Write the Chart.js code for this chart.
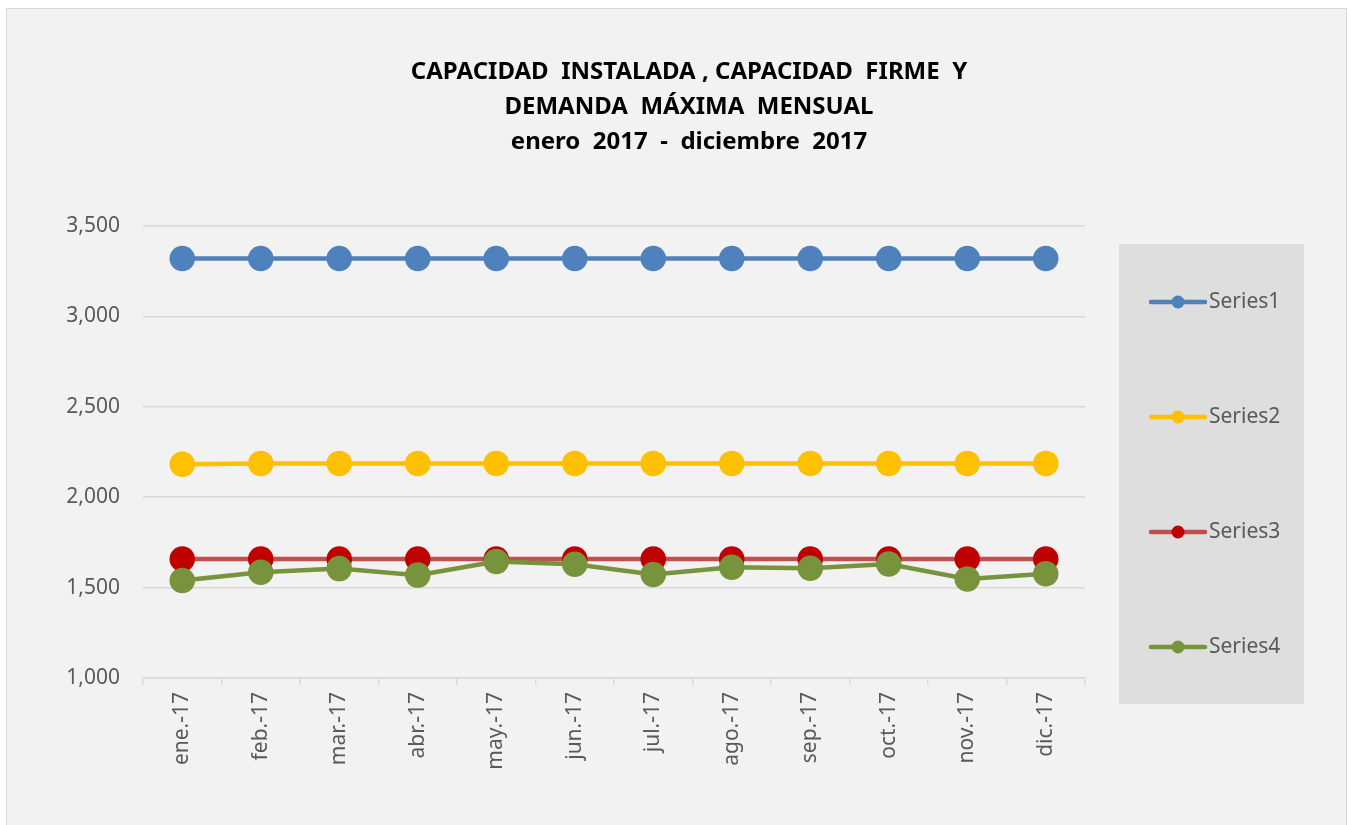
<!DOCTYPE html>
<html>
<head>
<meta charset="utf-8">
<script src="https://cdn.jsdelivr.net/npm/chart.js@4"></script>
<style>
    html, body { margin: 0; padding: 0; background: #ffffff; }
    #wrap { width: 1352px; height: 825px; }
</style>
</head>
<body>
<div id="wrap"><canvas id="capChart" width="1352" height="825"></canvas></div>
<script>
// Chart data
const months = ['ene.-17', 'feb.-17', 'mar.-17', 'abr.-17', 'may.-17', 'jun.-17',
                'jul.-17', 'ago.-17', 'sep.-17', 'oct.-17', 'nov.-17', 'dic.-17'];
const series1 = [3320, 3320, 3320, 3320, 3320, 3320, 3320, 3320, 3320, 3320, 3320, 3320];
const series2 = [2182, 2187, 2187, 2187, 2187, 2187, 2187, 2187, 2187, 2187, 2187, 2187];
const series3 = [1658, 1658, 1658, 1658, 1658, 1658, 1658, 1658, 1658, 1658, 1658, 1658];
const series4 = [1539, 1585, 1605, 1569, 1644, 1629, 1572, 1613, 1607, 1631, 1548, 1577];
const seriesNames = ['Series1', 'Series2', 'Series3', 'Series4'];
const titleLines = [
    'CAPACIDAD  INSTALADA , CAPACIDAD  FIRME  Y',
    'DEMANDA  MÁXIMA  MENSUAL',
    'enero  2017  -  diciembre  2017'
];
const yMin = 1000;
const yMax = 3500;
const yStep = 500;

const FONT = "'Noto Sans', 'Open Sans', sans-serif";
const GRID = '#d9d9d9';
const TEXT = '#595959';

// Background, outer frame and the grey legend panel
const backdrop = {
    id: 'backdrop',
    beforeDraw(chart) {
        const c = chart.ctx;
        c.save();
        c.fillStyle = '#ffffff';
        c.fillRect(0, 0, chart.width, chart.height);
        c.fillStyle = '#f2f2f2';
        c.fillRect(6, 8, 1341, 830);
        c.strokeStyle = '#d9d9d9';
        c.lineWidth = 1;
        c.strokeRect(6.5, 8.5, 1340, 830);
        c.fillStyle = '#dedede';
        c.fillRect(1119, 244, 185, 460);
        c.restore();
    }
};

// Legend: line with a dot in the middle, like the spreadsheet one
const sideLegend = {
    id: 'sideLegend',
    afterDraw(chart) {
        const c = chart.ctx;
        const rowY = [302, 417, 532, 647];
        c.save();
        chart.data.datasets.forEach((ds, i) => {
            const y = rowY[i];
            c.strokeStyle = ds.borderColor;
            c.lineWidth = 4.5;
            c.lineCap = 'round';
            c.beginPath();
            c.moveTo(1151, y);
            c.lineTo(1205, y);
            c.stroke();
            c.fillStyle = ds.pointBackgroundColor;
            c.beginPath();
            c.arc(1178, y, 6.5, 0, Math.PI * 2);
            c.fill();
            c.fillStyle = TEXT;
            c.font = '21px ' + FONT;
            c.textAlign = 'left';
            c.textBaseline = 'middle';
            c.fillText(ds.label, 1209, y);
        });
        c.restore();
    }
};

function lineSet(label, data, lineColor, dotColor, order) {
    return {
        label: label,
        data: data,
        borderColor: lineColor,
        backgroundColor: dotColor,
        pointBackgroundColor: dotColor,
        pointBorderColor: dotColor,
        borderWidth: 4.5,
        pointRadius: 10.5,
        pointHoverRadius: 10.5,
        tension: 0,
        fill: false,
        order: order
    };
}

const ctx = document.getElementById('capChart').getContext('2d');

const chart = new Chart(ctx, {
    type: 'line',
    data: {
        labels: months,
        datasets: [
            lineSet(seriesNames[0], series1, '#4f81bd', '#4f81bd', 4),
            lineSet(seriesNames[1], series2, '#ffc000', '#ffc000', 3),
            lineSet(seriesNames[2], series3, '#c0504d', '#c00000', 2),
            lineSet(seriesNames[3], series4, '#77933c', '#77933c', 1)
        ]
    },
    options: {
        responsive: false,
        animation: false,
        layout: {
            padding: { left: 30, right: 4, top: 0, bottom: 0 }
        },
        plugins: {
            legend: { display: false },
            tooltip: { enabled: false },
            title: {
                display: true,
                text: titleLines,
                color: '#000000',
                font: { family: FONT, size: 24, weight: 'bold', lineHeight: 35 / 24 },
                padding: { top: 55, bottom: 66 }
            }
        },
        scales: {
            x: {
                offset: true,
                grid: {
                    display: true,
                    offset: true,
                    drawOnChartArea: false,
                    color: GRID,
                    lineWidth: 1.5,
                    tickLength: 7
                },
                border: { display: true, color: GRID, width: 1.5 },
                ticks: {
                    color: TEXT,
                    font: { family: FONT, size: 21 },
                    minRotation: 90,
                    maxRotation: 90,
                    padding: 7,
                    autoSkip: false
                },
                afterFit: (s) => { s.height = 147; }
            },
            y: {
                min: yMin,
                max: yMax,
                grid: {
                    color: GRID,
                    lineWidth: 1.5,
                    drawTicks: false
                },
                border: { display: false },
                ticks: {
                    stepSize: yStep,
                    color: TEXT,
                    font: { family: FONT, size: 21 },
                    padding: 23,
                    callback: (v) => v.toLocaleString('en-US')
                },
                afterFit: (s) => { s.width = 113; }
            },
            // empty axis that only keeps room for the legend panel
            room: {
                position: 'right',
                display: true,
                grid: { display: false },
                border: { display: false },
                ticks: { display: false },
                afterFit: (s) => { s.width = 263; }
            }
        }
    },
    plugins: [backdrop, sideLegend]
});
</script>
</body>
</html>
